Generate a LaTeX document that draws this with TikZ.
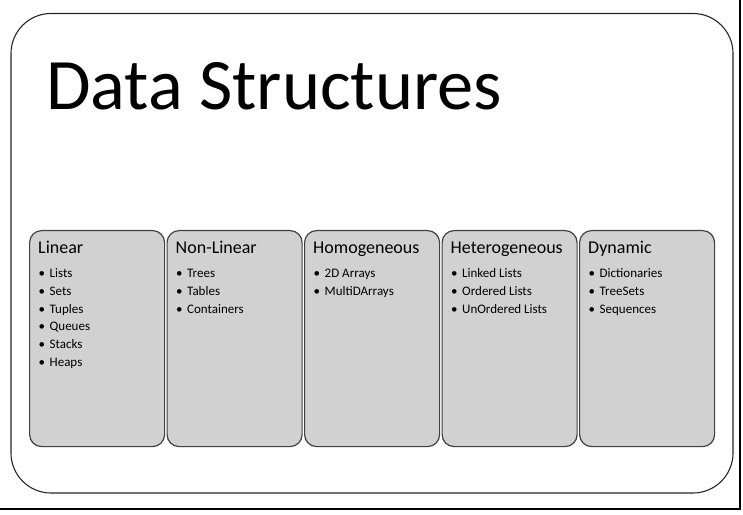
\documentclass[tikz,border=0pt]{standalone}
\usepackage{fontspec}
\setmainfont{Carlito}
\begin{document}
\begin{tikzpicture}[x=1pt,y=1pt,
  frame/.style={draw=black!85,line width=1.1pt,rounded corners=40pt},
  catbox/.style={draw=black!75,line width=1.2pt,fill=black!18,rounded corners=12pt,
    minimum width=135pt,minimum height=216pt,inner sep=0pt,anchor=north west},
  cathead/.style={anchor=base west,inner sep=0pt,font=\fontsize{18}{20}\selectfont},
  catitem/.style={anchor=base west,inner sep=0pt,font=\fontsize{13}{15}\selectfont},
  titletext/.style={anchor=base west,inner sep=0pt,font=\fontsize{72.5}{80}\selectfont}]
\useasboundingbox (0,0) rectangle (743,514);
\draw[line width=2pt] (0,5) -- (740,5) -- (740,514);
\draw[frame] (11,500.5) rectangle (733,21);
\node[titletext] (title) at (46,404) {Data Structures};
\newcommand{\itm}[1]{\makebox[11pt][l]{•}#1}
\foreach \i/\hd/\items in {0/Linear/{Lists,Sets,Tuples,Queues,Stacks,Heaps},
  1/Non-Linear/{Trees,Tables,Containers},
  2/Homogeneous/{2D Arrays,MultiDArrays},
  3/Heterogeneous/{Linked Lists,Ordered Lists,UnOrdered Lists},
  4/Dynamic/{Dictionaries,TreeSets,Sequences}}{
  \node[catbox] (box\i) at (29+\i*137.5,284) {};
  \node[cathead] (head\i) at ([xshift=9pt,yshift=-23.5pt]box\i.north west) {\hd};
  \foreach \t [count=\k] in \items {
    \node[catitem] (item\i-\k) at ([xshift=9.5pt,yshift=-48pt-(\k-1)*17.6pt]box\i.north west) {\itm{\t}};
  }
}
\end{tikzpicture}
\end{document}
